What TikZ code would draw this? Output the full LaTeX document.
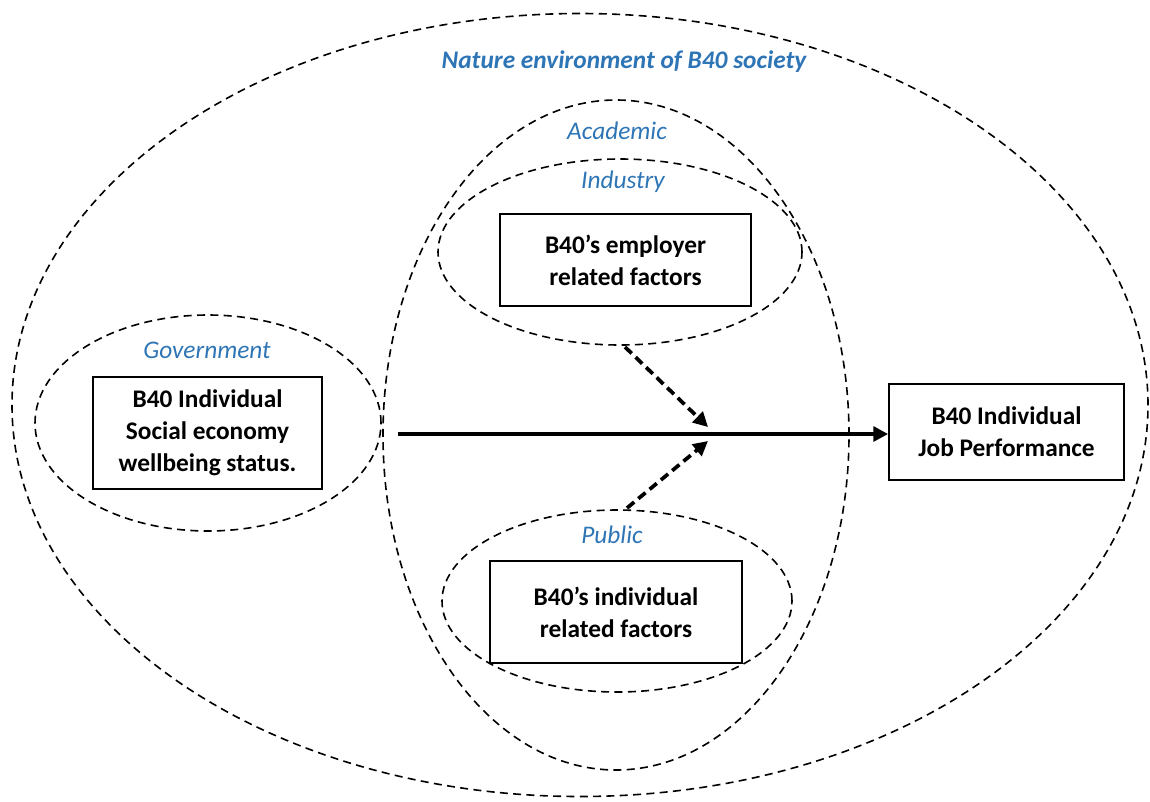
\documentclass[tikz,border=0pt]{standalone}
\usepackage{fontspec}
\setmainfont{Carlito}
\usetikzlibrary{shapes.geometric,arrows.meta}
\definecolor{lblblue}{RGB}{46,117,182}
\tikzset{
  ring/.style={draw,ellipse,dash pattern=on 6pt off 4pt,line width=1.2pt,inner sep=0pt},
  factor/.style={draw,line width=1.3pt,inner sep=0pt,align=center,font=\fontsize{19}{24}\selectfont\bfseries},
  lbl/.style={text=lblblue,font=\fontsize{19}{22}\selectfont\itshape},
  mainarrow/.style={line width=2.6pt,-{Triangle[length=11pt,width=11pt]}},
  sidearrow/.style={line width=2.8pt,dash pattern=on 7pt off 4pt,-{Triangle[length=11pt,width=11pt]}}
}
\begin{document}
\begin{tikzpicture}[x=0.75pt,y=-0.75pt]
\useasboundingbox (0,0) rectangle (1150,801);
% rings
\node[ring,minimum width=852pt,minimum height=587.25pt] (outer) at (580,405) {};
\node[ring,minimum width=349.5pt,minimum height=502.5pt] (acad) at (616,435) {};
\node[ring,minimum width=273pt,minimum height=139.5pt] (ind) at (620,252) {};
\node[ring,minimum width=262.5pt,minimum height=136.5pt] (pub) at (617,601) {};
\node[ring,minimum width=259.5pt,minimum height=162pt] (gov) at (208,423) {};
% labels
\node[lbl,font=\fontsize{19}{22}\selectfont\bfseries\itshape] (tnat) at (624,62) {Nature environment of B40 society};
\node[lbl] (tacad) at (617,131) {Academic};
\node[lbl] (tind) at (623,182) {Industry};
\node[lbl] (tgov) at (207,350) {Government};
\node[lbl] (tpub) at (612,535) {Public};
% boxes
\node[factor,minimum width=171.75pt,minimum height=84pt] (socio) at (207.5,433) {B40 Individual\\Social economy\\wellbeing status.};
\node[factor,minimum width=188.25pt,minimum height=69pt] (employer) at (625.5,260) {B40’s employer\\related factors};
\node[factor,minimum width=189pt,minimum height=76.5pt] (indiv) at (616,612) {B40’s individual\\related factors};
\node[factor,minimum width=176.25pt,minimum height=72pt] (job) at (1006.5,432) {B40 Individual\\Job Performance};
% connectors
\coordinate (start) at (398,434);
\draw[mainarrow] (start) -- (job.west |- start);
\draw[sidearrow] (625,347) -- (708,427);
\draw[sidearrow] (627,508) -- (708,441);
\end{tikzpicture}
\end{document}
